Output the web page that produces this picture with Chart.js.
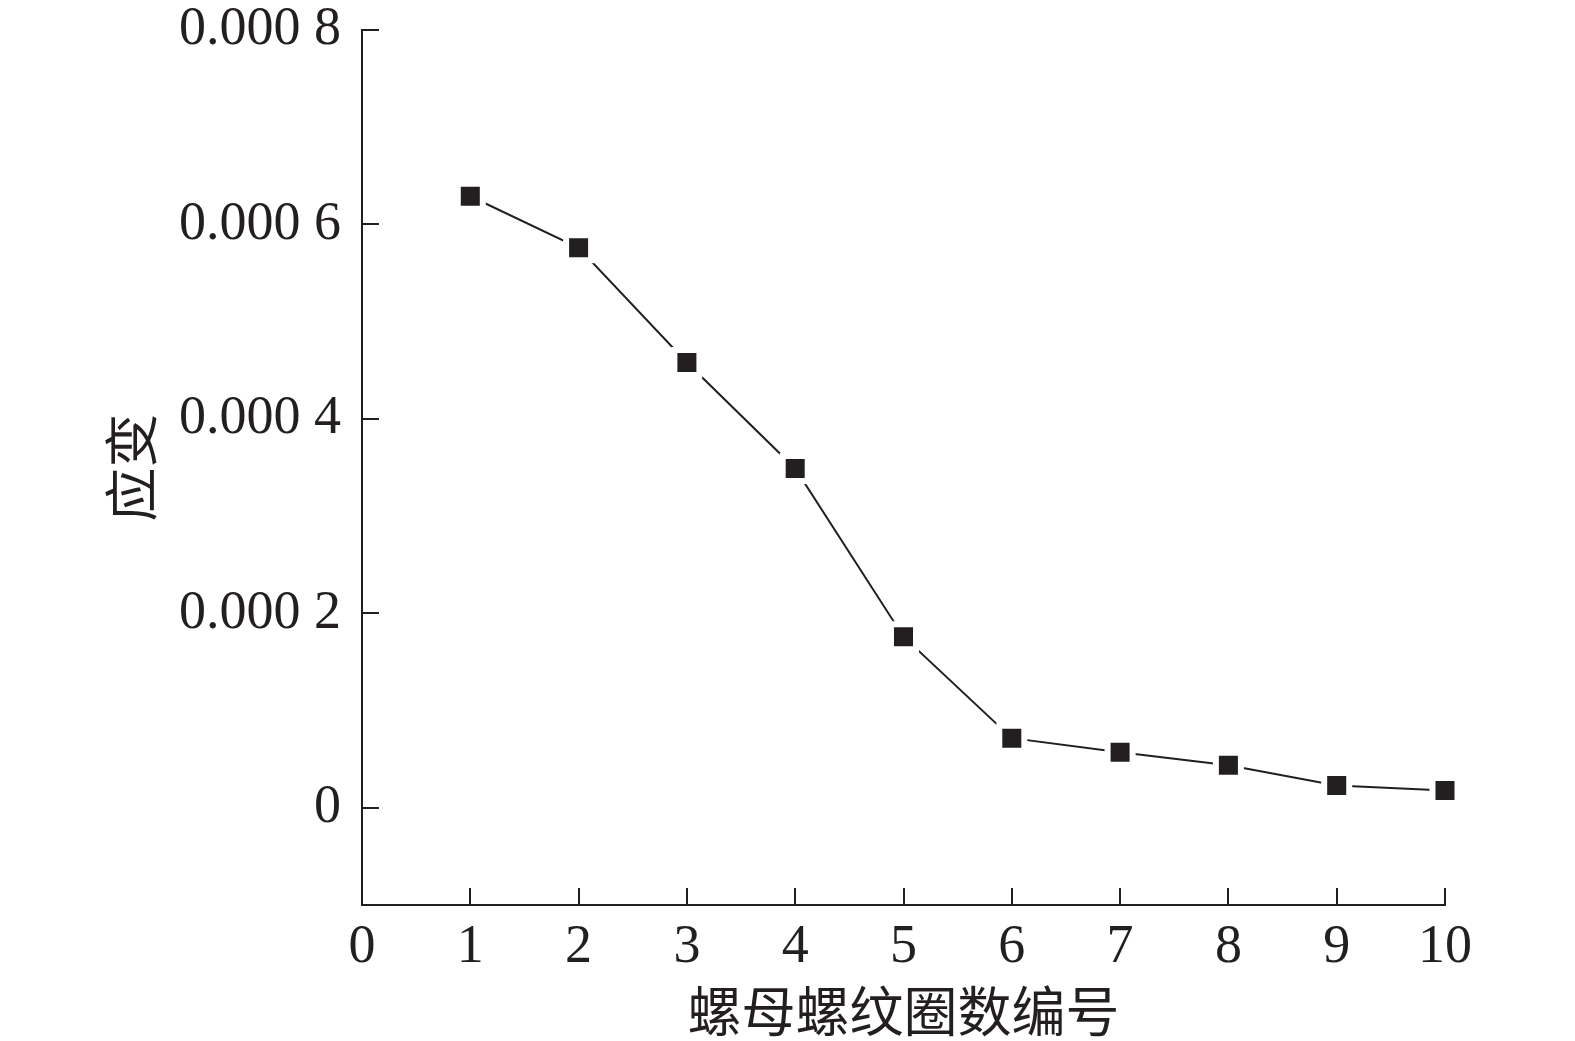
<!DOCTYPE html>
<html>
<head>
<meta charset="utf-8">
<script src="https://cdn.jsdelivr.net/npm/chart.js@4"></script>
<style>
  html, body { margin: 0; padding: 0; background: #fff; }
  canvas { display: block; }
</style>
</head>
<body>
<canvas id="lineChart" width="1575" height="1041"></canvas>
<script>
// data
var threadNo = [1, 2, 3, 4, 5, 6, 7, 8, 9, 10];
var strain = [0.000629, 0.000576, 0.000458, 0.000349, 0.000176, 0.0000716, 0.0000571, 0.0000437, 0.0000229, 0.0000178];
var yTicks = [0, 0.0002, 0.0004, 0.0006, 0.0008];
var xTicks = [0, 1, 2, 3, 4, 5, 6, 7, 8, 9, 10];

var ink = '#231f20';
var serif = '"Liberation Serif", "DejaVu Serif", serif';
var cjk = '"Noto Sans CJK SC", sans-serif';

function fmtY(v) {
  if (v === 0) return '0';
  var s = v.toFixed(4);
  return s.slice(0, 5) + ' ' + s.slice(5);
}

// inward tick marks, placed through the scales
var innerTicks = {
  id: 'innerTicks',
  afterDraw: function(chart) {
    var ctx = chart.ctx;
    var xs = chart.scales.x, ys = chart.scales.y;
    var area = chart.chartArea;
    ctx.save();
    ctx.strokeStyle = ink;
    ctx.lineWidth = 2;
    ctx.beginPath();
    yTicks.forEach(function(v) {
      var py = Math.round(ys.getPixelForValue(v));
      ctx.moveTo(area.left, py);
      ctx.lineTo(area.left + 17, py);
    });
    xTicks.forEach(function(v) {
      if (v === 0) return;
      var px = Math.round(xs.getPixelForValue(v));
      ctx.moveTo(px, area.bottom);
      ctx.lineTo(px, area.bottom - 17);
    });
    ctx.stroke();
    ctx.restore();
  }
};

function lineChart() {
  var ctx = document.getElementById('lineChart').getContext('2d');
  var pts = threadNo.map(function(x, i) { return {x: x, y: strain[i]}; });
  new Chart(ctx, {
    type: 'line',
    data: {
      datasets: [{
        data: pts,
        clip: false,
        borderColor: ink,
        borderWidth: 2,
        backgroundColor: ink,
        fill: false,
        tension: 0,
        pointStyle: 'rect',
        pointRadius: 17.7,
        pointBackgroundColor: ink,
        pointBorderColor: '#ffffff',
        pointBorderWidth: 6
      }]
    },
    options: {
      responsive: false,
      animation: false,
      events: [],
      devicePixelRatio: 1,
      layout: { padding: { left: 0, right: 130, top: 30, bottom: 0 } },
      plugins: { legend: { display: false }, tooltip: { enabled: false } },
      scales: {
        x: {
          type: 'linear',
          min: 0,
          max: 10,
          afterBuildTicks: function(scale) {
            scale.ticks = xTicks.map(function(v) { return {value: v}; });
          },
          afterFit: function(scale) {
            scale.height = 136;
            scale.paddingLeft = 0;
            scale.paddingRight = 0;
          },
          grid: { display: false, drawTicks: false },
          border: { display: true, color: ink, width: 2 },
          ticks: {
            color: ink,
            padding: 10,
            maxRotation: 0,
            autoSkip: false,
            font: { family: serif, size: 54 },
            callback: function(v) { return String(v); }
          },
          title: {
            display: true,
            text: '螺母螺纹圈数编号',
            color: ink,
            font: { family: cjk, size: 54, lineHeight: 1 },
            padding: { top: 0, bottom: 3 }
          }
        },
        y: {
          type: 'linear',
          min: -0.0001,
          max: 0.0008,
          afterBuildTicks: function(scale) {
            scale.ticks = yTicks.map(function(v) { return {value: v}; });
          },
          afterFit: function(scale) {
            scale.width = 362;
            scale.paddingTop = 0;
            scale.paddingBottom = 0;
          },
          grid: { display: false, drawTicks: false },
          border: { display: true, color: ink, width: 2 },
          ticks: {
            color: ink,
            padding: 21,
            autoSkip: false,
            font: { family: serif, size: 54 },
            callback: function(v) { return fmtY(v); }
          },
          title: {
            display: true,
            text: '应变',
            color: ink,
            font: { family: cjk, size: 54, lineHeight: 1 },
            padding: { top: 104, bottom: 0 }
          }
        }
      }
    },
    plugins: [innerTicks]
  });
}

lineChart();
</script>
</body>
</html>
